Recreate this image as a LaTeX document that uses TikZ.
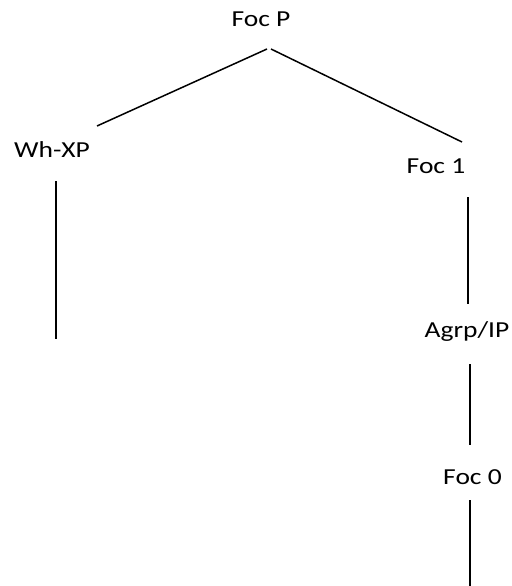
\documentclass[tikz,border=0pt]{standalone}
\usepackage{fontspec}
\setmainfont{Carlito}[FakeStretch=1.2]
\begin{document}
\begin{tikzpicture}[x=1bp,y=-1bp,
  lbl/.style={inner sep=0pt,anchor=base,font=\fontsize{23}{27}\selectfont},
  edge/.style={line width=1.5bp,black}]
\useasboundingbox (0,0) rectangle (512,586);
\node[lbl] (focp) at (261,27) {Foc P};
\node[lbl] (whxp) at (52,158) {Wh-XP};
\node[lbl] (foc1) at (436,174) {Foc 1};
\node[lbl] (agrp) at (467,337) {Agrp/IP};
\node[lbl] (foc0) at (472.5,484) {Foc 0};
\coordinate (apexL) at (267,49);
\coordinate (apexR) at (271,49);
\coordinate (whend) at (97,126);
\coordinate (f1end) at (462,142);
\coordinate (wha) at (56,181);
\coordinate (whb) at (56,339);
\coordinate (f1a) at (468,197);
\coordinate (f1b) at (468,304);
\coordinate (aga) at (470,364);
\coordinate (agb) at (470,445);
\coordinate (f0a) at (470,500);
\coordinate (f0b) at (470,586);
\draw[edge] (apexL) -- (whend);
\draw[edge] (apexR) -- (f1end);
\draw[edge] (wha) -- (whb);
\draw[edge] (f1a) -- (f1b);
\draw[edge] (aga) -- (agb);
\draw[edge] (f0a) -- (f0b);
\end{tikzpicture}
\end{document}
